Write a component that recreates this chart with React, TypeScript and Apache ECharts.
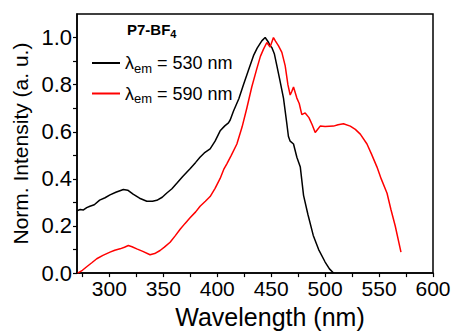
import React, { useEffect, useRef } from "react";
import * as echarts from "echarts";

const xLabelValues = [300, 350, 400, 450, 500, 550, 600];
const xTickValues = [275, 300, 325, 350, 375, 400, 425, 450, 475, 500, 525, 550, 575, 600];
const yLabelValues = [0, 0.2, 0.4, 0.6, 0.8, 1.0];
const yTickValues = [0, 0.1, 0.2, 0.3, 0.4, 0.5, 0.6, 0.7, 0.8, 0.9, 1.0];

const black530Wl = [270, 273, 276, 279, 282, 286, 291, 296, 300.6, 306, 313, 317, 322, 328, 334.7, 340, 344, 349, 353, 358, 362.5, 368, 374.8, 380, 384, 388, 393.4, 398, 402.7, 407, 410.4, 412, 415, 420, 424.3, 429, 433.6, 437, 441.3, 444.4, 447.5, 449, 450.6, 453, 455.3, 458, 461.4, 464.6, 466, 467.6, 470.7, 473.8, 477, 480, 484, 489, 494, 500, 504, 507.8];
const black530Val = [0.265, 0.27, 0.268, 0.278, 0.284, 0.29, 0.31, 0.32, 0.332, 0.343, 0.355, 0.352, 0.335, 0.318, 0.305, 0.305, 0.309, 0.322, 0.339, 0.358, 0.381, 0.41, 0.443, 0.47, 0.492, 0.51, 0.527, 0.56, 0.604, 0.625, 0.638, 0.65, 0.687, 0.74, 0.8, 0.862, 0.923, 0.955, 0.986, 1.0, 0.98, 0.965, 0.958, 0.93, 0.88, 0.82, 0.743, 0.631, 0.58, 0.56, 0.548, 0.492, 0.45, 0.33, 0.25, 0.16, 0.1, 0.047, 0.018, 0.0];

const red590Wl = [270.6, 275, 279, 284, 288.3, 294, 300.6, 305, 309.9, 314, 317.6, 321, 325.4, 331, 337.7, 342, 347, 351, 356.3, 361, 365.6, 370, 374.8, 380, 384.1, 389, 393.4, 398, 402.7, 406, 408.9, 413, 418.2, 423, 427.4, 432, 436.7, 440, 442.9, 446, 449, 452.1, 454, 456.8, 459.9, 463, 465.5, 467.6, 469, 470.7, 473.8, 476, 478.4, 481.5, 485, 488, 490.8, 493, 495.4, 500, 507.8, 512, 517, 523.3, 528, 532.6, 538.8, 543, 548.1, 552, 557.4, 561, 565, 570.3];
const red590Val = [0.0, 0.012, 0.027, 0.045, 0.061, 0.075, 0.089, 0.097, 0.103, 0.11, 0.117, 0.112, 0.103, 0.092, 0.078, 0.083, 0.096, 0.11, 0.131, 0.158, 0.186, 0.21, 0.235, 0.26, 0.284, 0.305, 0.325, 0.36, 0.402, 0.44, 0.464, 0.5, 0.548, 0.62, 0.7, 0.79, 0.868, 0.92, 0.951, 0.979, 0.96, 1.0, 0.985, 0.965, 0.937, 0.88, 0.8, 0.756, 0.77, 0.79, 0.743, 0.72, 0.673, 0.68, 0.66, 0.63, 0.597, 0.61, 0.624, 0.622, 0.624, 0.63, 0.634, 0.624, 0.61, 0.59, 0.548, 0.505, 0.45, 0.4, 0.339, 0.27, 0.2, 0.089];

const seriesNames = ["530", "590"];
const FONT = "Liberation Sans, Arial, sans-serif";

function zip(a: number[], b: number[]) {
  return a.map((x, i) => [x, b[i]]);
}

export default function App() {
  const ref = useRef<HTMLDivElement>(null);
  useEffect(() => {
    if (!ref.current) return;
    const chart = echarts.init(ref.current, undefined, { renderer: "svg" });
    chart.setOption({
      animation: false,
      backgroundColor: "#fff",
      textStyle: { fontFamily: FONT },
      grid: {
        left: 77,
        right: 21,
        top: 14,
        bottom: 56,
        show: true,
        borderColor: "#000",
        borderWidth: 1.5,
      },
      title: {
        text: "{b|P7-BF}{s|4}",
        left: 122,
        top: 15,
        textStyle: {
          rich: {
            b: { fontFamily: FONT, fontWeight: "bold", fontSize: 15, color: "#000" },
            s: { fontFamily: FONT, fontWeight: "bold", fontSize: 11, color: "#000", padding: [8, 0, 0, 0] },
          },
        },
      },
      legend: {
        orient: "vertical",
        left: 87,
        top: 49,
        itemGap: 10,
        itemWidth: 28,
        itemHeight: 2,
        icon: "rect",
        data: seriesNames,
        formatter: (name: string) => `{l|λ}{s|em}{l| = ${name} nm}`,
        textStyle: {
          rich: {
            l: { fontFamily: FONT, fontSize: 18, color: "#000" },
            s: { fontFamily: FONT, fontSize: 13, color: "#000", padding: [10, 0, 0, 0] },
          },
        },
      },
      xAxis: {
        type: "value",
        min: 270,
        max: 600,
        name: "Wavelength (nm)",
        nameLocation: "middle",
        nameGap: 27,
        nameTextStyle: { fontFamily: FONT, fontSize: 25, color: "#000", padding: [0, 0, 0, 30] },
        axisLine: { show: true, onZero: false, lineStyle: { color: "#000", width: 1.5 } },
        axisTick: { show: true, inside: false, length: 4, customValues: xTickValues, lineStyle: { color: "#000", width: 1.2 } },
        axisLabel: {
          customValues: xLabelValues,
          fontFamily: FONT,
          fontSize: 21,
          color: "#000",
          margin: 5,
        },
        splitLine: { show: false },
      },
      yAxis: {
        type: "value",
        min: 0,
        max: 1.1,
        name: "Norm. Intensity (a. u.)",
        nameLocation: "middle",
        nameGap: 46,
        nameTextStyle: { fontFamily: FONT, fontSize: 21, color: "#000" },
        axisLine: { show: true, onZero: false, lineStyle: { color: "#000", width: 1.5 } },
        axisTick: { show: true, inside: false, length: 4, customValues: yTickValues, lineStyle: { color: "#000", width: 1.2 } },
        axisLabel: {
          customValues: yLabelValues,
          formatter: (v: number) => v.toFixed(1),
          fontFamily: FONT,
          fontSize: 22,
          color: "#000",
          margin: 5,
        },
        splitLine: { show: false },
      },
      series: [
        {
          name: seriesNames[0],
          type: "line",
          data: zip(black530Wl, black530Val),
          showSymbol: false,
          lineStyle: { color: "#000", width: 1.5 },
          itemStyle: { color: "#000" },
        },
        {
          name: seriesNames[1],
          type: "line",
          data: zip(red590Wl, red590Val),
          showSymbol: false,
          lineStyle: { color: "#ff0000", width: 1.5 },
          itemStyle: { color: "#ff0000" },
        },
      ],
    });
    return () => chart.dispose();
  }, []);
  return <div ref={ref} style={{ width: 454, height: 334, position: "absolute", left: 0, top: 0 }} />;
}
